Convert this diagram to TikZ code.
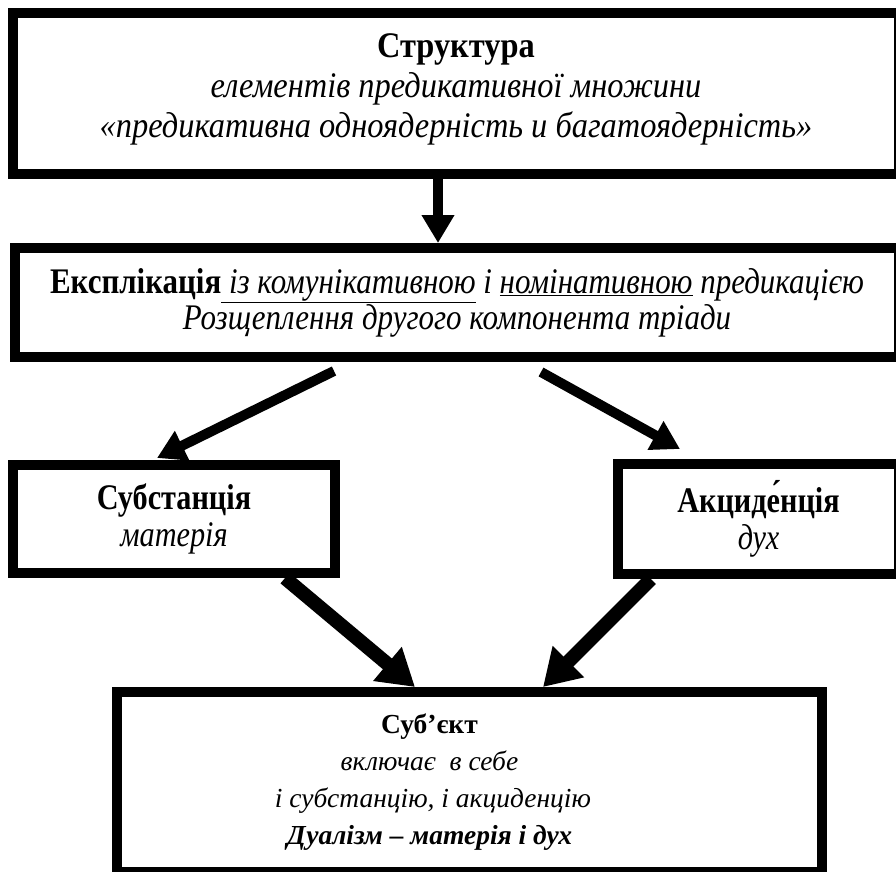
\documentclass[tikz,border=0pt]{standalone}
\usepackage{fontspec}
\setmainfont{Liberation Serif}
\newfontfamily\topfont[FakeStretch=0.9]{Liberation Serif}
\newfontfamily\narrowfont[FakeStretch=0.84]{Liberation Serif}
\newfontfamily\explfont[FakeStretch=0.86]{Liberation Serif}
\usetikzlibrary{arrows.meta, positioning}

\begin{document}
\begin{tikzpicture}[x=1pt, y=-1pt,
    % --- Styles ---
    % Style for the thick framed boxes
    box-style/.style={
        draw,
        line width=10pt,
        inner sep=0pt,
        align=center,
        font=\narrowfont\fontsize{36}{37}\selectfont
    },
    % Style for the text of the last box
    subj-text/.style={
        align=center,
        font=\fontsize{27.5}{37}\selectfont
    },
    % Style for the thinner arrows
    arrow-style/.style={
        -{Triangle[length=28pt, width=31pt]},
        line width=10pt
    },
    % Style for the fat arrows into the last box
    fat-arrow/.style={
        -{Triangle[length=36pt, width=42pt]},
        line width=14pt
    }
]
\useasboundingbox (0,0) rectangle (896,871);

% --- Node 1: Structure ---
\node[box-style, font=\topfont\fontsize{36}{40}\selectfont,
      minimum width=886pt, minimum height=161pt] (struct) at (456,93.5) {
    \textbf{Структура}\\
    \textit{елементів предикативної множини}\\
    \textit{«предикативна одноядерність и багатоядерність»}\rule[-16pt]{0pt}{16pt}
};

% --- Node 2: Explication ---
\node[box-style, font=\explfont\fontsize{36}{36}\selectfont,
      minimum width=884pt, minimum height=109pt] (expl) at (457,302.5) {
    \textbf{Експлікація}\underline{\textit{\ із комунікативною}} \textit{і} \underline{\textit{номінативною}} \textit{предикацією}\\
    \textit{Розщеплення другого компонента тріади}
};

% --- Nodes 3 and 4: Substance and Accident ---
\node[box-style, minimum width=322pt, minimum height=108pt] (subst) at (174,519) {
    \textbf{Субстанція}\\
    \textit{матерія}
};
\node[box-style, minimum width=281pt, minimum height=110pt] (accid) at (758.5,519) {
    \textbf{Акциде́нція}\\
    \textit{дух}
};

% --- Node 5: Subject (text sits left of centre) ---
\node[box-style, minimum width=705pt, minimum height=180pt,
      label={[subj-text, xshift=-40pt]center:{
        \textbf{Суб’єкт}\\
        \textit{включає\ \ в себе}\\
        \textit{\ і субстанцію, і акциденцію}\\
        \textbf{\textit{Дуалізм – матерія і дух}}}}] (subj) at (469.5,782) {};

% --- Connecting arrows ---
\draw[arrow-style] ([xshift=-18pt]struct.south) -- ([xshift=-19pt]expl.north);
\draw[arrow-style] ([xshift=-123pt, yshift=-9pt]expl.south) -- ([xshift=-17pt, yshift=2pt]subst.north);
\draw[arrow-style] ([xshift=84pt, yshift=-10pt]expl.south) -- ([xshift=-78.5pt, yshift=10pt]accid.north);
\draw[fat-arrow] ([xshift=111pt]subst.south) -- ([xshift=-54.5pt]subj.north);
\draw[fat-arrow] ([xshift=-107.5pt]accid.south) -- ([xshift=73.5pt]subj.north);

\end{tikzpicture}
\end{document}
